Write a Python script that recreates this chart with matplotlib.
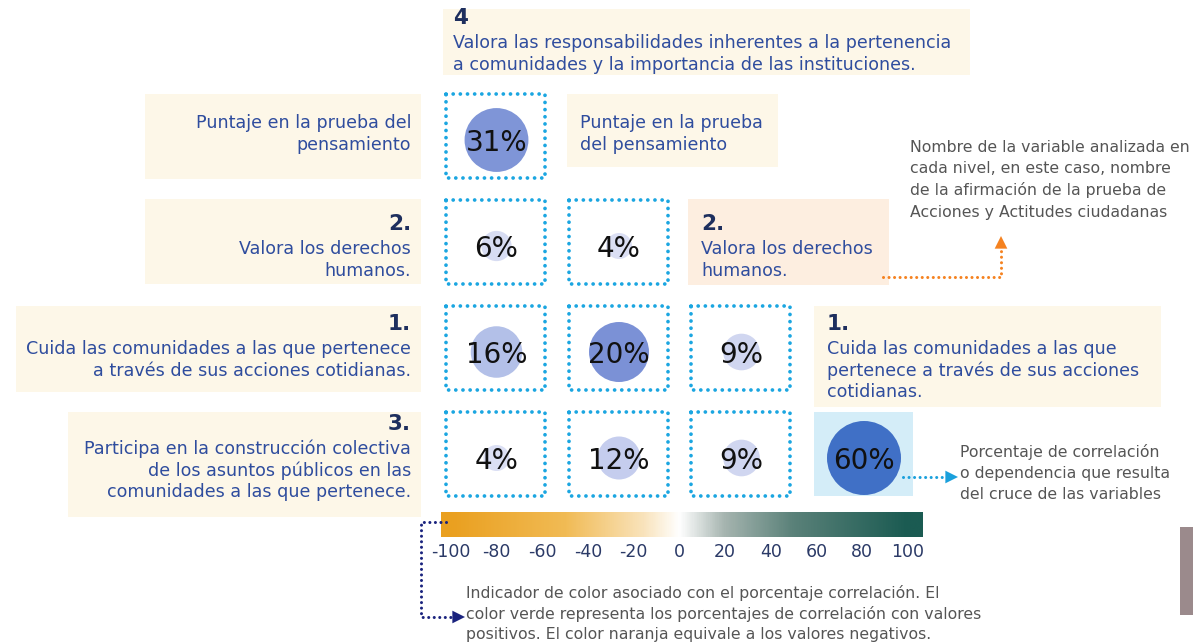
import numpy as np
import matplotlib
matplotlib.use("Agg")
from matplotlib import pyplot as plt
from matplotlib.patches import Rectangle, Circle
from matplotlib.colors import LinearSegmentedColormap, Normalize

# data
row_numbers = ["", "2.", "1.", "3."]
row_labels = [
    ["Puntaje en la prueba del", "pensamiento"],
    ["Valora los derechos", "humanos."],
    ["Cuida las comunidades a las que pertenece", "a través de sus acciones cotidianas."],
    ["Participa en la construcción colectiva", "de los asuntos públicos en las",
     "comunidades a las que pertenece."],
]
col_numbers = ["4", "", "2.", "1."]
col_labels = [
    ["Valora las responsabilidades inherentes a la pertenencia",
     "a comunidades y la importancia de las instituciones."],
    ["Puntaje en la prueba", "del pensamiento"],
    ["Valora los derechos", "humanos."],
    ["Cuida las comunidades a las que", "pertenece a través de sus acciones", "cotidianas."],
]
values = [[31], [6, 4], [16, 20, 9], [4, 12, 9, 60]]
bar_ticks = [-100, -80, -60, -40, -20, 0, 20, 40, 60, 80, 100]

note_names = ["Nombre de la variable analizada en", "cada nivel, en este caso, nombre",
              "de la afirmación de la prueba de", "Acciones y Actitudes ciudadanas"]
note_pct = ["Porcentaje de correlación", "o dependencia que resulta", "del cruce de las variables"]
note_bar = ["Indicador de color asociado con el porcentaje correlación. El",
            "color verde representa los porcentajes de correlación con valores",
            "positivos. El color naranja equivale a los valores negativos."]

# styles
cream = "#fdf7e8"
peach = "#fdeee0"
blue_txt = "#2f4d9e"
navy = "#1e2f5e"
dot_blue = "#1ba6e1"
gray_txt = "#555555"
LAB = 12.6
NUM = 15.5
NOTE = 11.3

fig = plt.figure(figsize=(11.93, 6.44), dpi=100)
ax = fig.add_axes([0, 0, 1, 1])


def lines(x, y0, txt, ha, size=LAB, color=blue_txt, step=21.7):
    for k, t in enumerate(txt):
        ax.text(x, y0 + step * k, t, ha=ha, va="center", fontsize=size, color=color)


# cell grid
cx0, cy0, cw, ch, dx, dy = 446, 94, 99, 84, 122.5, 106
rad_scale = ([4, 20, 60], [13, 30, 37])
circ_cmap = LinearSegmentedColormap.from_list(
    "c", [(0, "#e3e7f7"), (0.15, "#d0d6f0"), (0.2, "#c5cdee"), (0.27, "#b2bfe8"),
          (0.33, "#7b91d6"), (0.52, "#7f95d7"), (1, "#4070c6")])
cnorm = Normalize(0, 60)

for i, row in enumerate(values):
    for j, v in enumerate(row):
        x0 = cx0 + dx * j
        y0 = cy0 + dy * i
        last = (i == 3 and j == 3)
        if last:
            ax.add_patch(Rectangle((x0, y0), cw, ch, facecolor="#d4edf8", edgecolor="none"))
        else:
            ax.add_patch(Rectangle((x0, y0), cw, ch, facecolor="none", edgecolor=dot_blue,
                                   lw=2.7, linestyle=(0, (0.01, 1.9)), capstyle="round"))
        r = np.interp(v, *rad_scale)
        ax.add_patch(Circle((x0 + cw / 2 + 1, y0 + ch / 2 + 4), r,
                            facecolor=circ_cmap(cnorm(v)), edgecolor="none"))
        ax.text(x0 + cw / 2 + 1, y0 + ch / 2 + 7, f"{v}%", ha="center", va="center",
                fontsize=20, color="#111111")

# left label boxes
left_boxes = [(145, 94, 179), (145, 199, 284), (16, 306, 392), (68, 412, 517)]
first_line = [123, 249, 349, 449]
for i, (bx, top, bot) in enumerate(left_boxes):
    ax.add_patch(Rectangle((bx, top), 421 - bx, bot - top, facecolor=cream, edgecolor="none", zorder=0))
    if row_numbers[i]:
        ax.text(411, first_line[i] - 25, row_numbers[i], ha="right", va="center",
                fontsize=NUM, fontweight="heavy", color=navy)
    lines(411, first_line[i], row_labels[i], "right")

# column labels (top + diagonal)
col_boxes = [(443, 9, 970, 75, cream), (567, 94, 778, 167, cream),
             (688, 199, 889, 285, peach), (814, 306, 1161, 407, cream)]
col_first = [43, 123, 249, 349]
for j, (x0, top, x1, bot, fc) in enumerate(col_boxes):
    ax.add_patch(Rectangle((x0, top), x1 - x0, bot - top, facecolor=fc, edgecolor="none", zorder=0))
    tx = x0 + 10 if j == 0 else x0 + 13
    if col_numbers[j]:
        ax.text(tx, col_first[j] - 25, col_numbers[j], ha="left", va="center",
                fontsize=NUM, fontweight="heavy", color=navy)
    lines(tx, col_first[j], col_labels[j], "left")

# notes
lines(910, 147, note_names, "left", size=NOTE, color=gray_txt)
lines(960, 452, note_pct, "left", size=NOTE, color=gray_txt, step=21)
lines(466, 593, note_bar, "left", size=NOTE, color=gray_txt, step=20.5)


def dotted_arrow(xs, ys, tip, base, color):
    ax.plot(xs, ys, color=color, lw=2.2, linestyle=(0, (0.01, 1.8)), solid_capstyle="round",
            dash_capstyle="round")
    ax.annotate("", xy=tip, xytext=base,
                arrowprops=dict(arrowstyle="-|>,head_length=0.7,head_width=0.35",
                                mutation_scale=13, color=color, lw=0,
                                shrinkA=0, shrinkB=0))


dotted_arrow([883, 1001, 1001], [277, 277, 249], (1001, 236), (1001, 249), "#f58220")
dotted_arrow([903, 946], [477, 477], (958, 477), (946, 477), "#1aa0dc")
dotted_arrow([446, 421, 421, 453], [522, 522, 617, 617], (465, 617), (453, 617), "#1a237e")

# colour bar
bar_cmap = LinearSegmentedColormap.from_list(
    "b", [(0, "#eaa020"), (0.25, "#f1bb55"), (0.42, "#f9e3bb"), (0.5, "#ffffff"),
          (0.6, "#a5b4af"), (0.75, "#5a8179"), (1, "#1b5b52")])
px_per = (908 - 451) / 200.0
lo = -100 - (451 - 441) / px_per
hi = 100 + (923 - 908) / px_per
grad = np.linspace(lo, hi, 600)[None, :]
ax.imshow(grad, extent=[441, 923, 537, 512], cmap=bar_cmap, norm=Normalize(-100, 100),
          aspect="auto", interpolation="bilinear", zorder=1)
for t in bar_ticks:
    ax.text(451 + (t + 100) * px_per, 552, str(t), ha="center", va="center",
            fontsize=12.5, color="#2b3a67")

# side tab
ax.add_patch(Rectangle((1180, 527), 13, 88, facecolor="#9b8a8c", edgecolor="none"))

ax.set_xlim(0, 1193)
ax.set_ylim(644, 0)
ax.axis("off")
fig.savefig("out.png", dpi=100)
